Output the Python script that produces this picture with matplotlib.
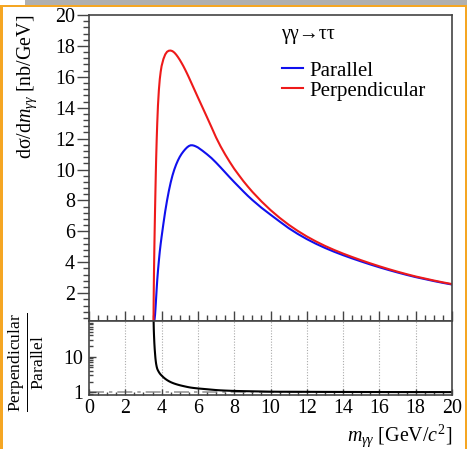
import matplotlib
matplotlib.use("Agg")
import matplotlib.pyplot as plt
from matplotlib.patches import Rectangle
from matplotlib.ticker import MultipleLocator, LogLocator, NullFormatter, FixedLocator
import numpy as np

plt.rcParams['font.family'] = ['Liberation Serif', 'DejaVu Serif']
plt.rcParams['mathtext.fontset'] = 'custom'
plt.rcParams['mathtext.rm'] = 'Liberation Serif'
plt.rcParams['mathtext.it'] = 'Liberation Serif:italic'
plt.rcParams['mathtext.bf'] = 'Liberation Serif:bold'

# ---- data ----
m_gg = [3.554, 3.56, 3.57, 3.58, 3.60, 3.62, 3.64, 3.66, 3.68, 3.70, 3.73, 3.76, 3.80, 3.85,
        3.90, 3.95, 4.0, 4.1, 4.2, 4.3, 4.4, 4.5, 4.6, 4.7, 4.8, 4.9, 5.0, 5.1, 5.2, 5.3,
        5.4, 5.5, 5.6, 5.7, 5.8, 5.9, 6.0, 6.25, 6.5, 6.75, 7.0, 7.25, 7.5, 7.75, 8.0, 8.25,
        8.5, 8.75, 9.0, 9.5, 10, 10.5, 11, 11.5, 12, 12.5, 13, 13.5, 14, 14.5, 15, 15.5,
        16, 16.5, 17, 17.5, 18, 18.5, 19, 19.5, 20]
perpendicular = [0.0, 1.2, 2.3, 3.3, 4.85, 6.2, 7.45, 8.6, 9.7, 10.7, 11.95, 13.0, 14.15, 15.15,
                 15.85, 16.33, 16.7, 17.15, 17.45, 17.62, 17.69, 17.7, 17.66, 17.57, 17.44, 17.28, 17.1, 16.9, 16.69, 16.46,
                 16.22, 15.97, 15.71, 15.45, 15.19, 14.93, 14.67, 14.03, 13.39, 12.74, 12.08, 11.5, 10.98, 10.5, 10.05, 9.65,
                 9.26, 8.9, 8.56, 7.94, 7.38, 6.88, 6.43, 6.03, 5.67, 5.35, 5.06, 4.8, 4.56, 4.34, 4.13, 3.93,
                 3.74, 3.56, 3.39, 3.23, 3.08, 2.95, 2.82, 2.7, 2.59]
parallel = [0.0, 0.012, 0.04, 0.08, 0.2, 0.38, 0.62, 0.95, 1.32, 1.72, 2.3, 2.85, 3.45, 4.1,
            4.7, 5.2, 5.65, 6.5, 7.3, 8.0, 8.62, 9.16, 9.62, 10.0, 10.32, 10.59, 10.82, 11.01, 11.17, 11.31,
            11.43, 11.52, 11.57, 11.57, 11.54, 11.49, 11.43, 11.22, 10.99, 10.74, 10.45, 10.14, 9.82, 9.5, 9.19, 8.89,
            8.59, 8.3, 8.03, 7.53, 7.08, 6.64, 6.21, 5.835, 5.5, 5.2, 4.93, 4.685, 4.46, 4.25, 4.05, 3.858,
            3.675, 3.503, 3.34, 3.185, 3.04, 2.913, 2.785, 2.668, 2.56]

process_label = "γγ→ττ"
series_labels = ["Parallel", "Perpendicular"]

m_arr = np.array(m_gg)
perp = np.array(perpendicular)
para = np.array(parallel)
ok = para > 0
ratio = perp[ok] / para[ok]
m_ratio = m_arr[ok]

W, H = 467, 449
fig = plt.figure(figsize=(W / 100, H / 100), dpi=100)

def fx(px):
    return px / W

def fy(py):
    return 1 - py / H

# screenshot frame decorations
fig.patches.append(Rectangle((fx(25), fy(4.5)), fx(442), 4.5 / H, transform=fig.transFigure,
                             facecolor='#b0b0b0', edgecolor='none', zorder=0))
fig.patches.append(Rectangle((0, fy(7)), 1, 2 / H, transform=fig.transFigure,
                             facecolor='#f5a623', edgecolor='none', zorder=0))
fig.patches.append(Rectangle((0, 0), 2.5 / W, fy(5), transform=fig.transFigure,
                             facecolor='#f5a623', edgecolor='none', zorder=0))
fig.patches.append(Rectangle((fx(464.5), 0), 2.5 / W, fy(5), transform=fig.transFigure,
                             facecolor='#f5a623', edgecolor='none', zorder=0))

L, R = 89, 452
top_t, top_b = 15, 321
bot_t, bot_b = 321, 395

ax1 = fig.add_axes([fx(L), fy(top_b), (R - L) / W, (top_b - top_t) / H])
ax2 = fig.add_axes([fx(L), fy(bot_b), (R - L) / W, (bot_b - bot_t) / H])

spine_col = '#444444'
fs = 14.4

# upper panel
ax1.plot(m_arr, para, color='#1010ee', lw=1.5, label=series_labels[0])
ax1.plot(m_arr, perp, color='#ee1a1a', lw=1.5, label=series_labels[1])
ax1.set_xlim(0, 20)
ax1.set_ylim(0.2, 20)
ax1.yaxis.set_major_locator(MultipleLocator(2))
ax1.yaxis.set_minor_locator(MultipleLocator(0.4))
ax1.xaxis.set_major_locator(MultipleLocator(2))
ax1.xaxis.set_minor_locator(MultipleLocator(0.5))
ax1.set_yticks([2, 4, 6, 8, 10, 12, 14, 16, 18, 20])
ax1.tick_params(axis='y', which='major', direction='out', length=9, width=1, color=spine_col,
                labelsize=fs, pad=1)
ax1.tick_params(axis='y', which='minor', direction='out', length=4.5, width=1, color=spine_col)
ax1.tick_params(axis='x', which='major', direction='in', length=7, width=1, color=spine_col,
                labelbottom=False)
ax1.tick_params(axis='x', which='minor', direction='in', length=4, width=1, color=spine_col)
for sp in ax1.spines.values():
    sp.set_color(spine_col)
    sp.set_linewidth(1.2)

# legend
fig.text(fx(281), fy(34), process_label, fontsize=fs, ha='left', va='center')
leg = ax1.legend(loc='upper left', bbox_to_anchor=((282 - L) / (R - L), 1 - (61 - top_t) / (top_b - top_t)),
                 frameon=False, fontsize=15, handlelength=1.0, handletextpad=0.3,
                 labelspacing=0.02, borderaxespad=0, borderpad=0)

# lower panel
ax2.plot(m_ratio, ratio, color='black', lw=1.5)
ax2.axhline(1.0, color='#999999', lw=1.2, ls=(0, (9, 3, 2, 3)), zorder=1)
for xv in range(2, 20, 2):
    ax2.axvline(xv, color='#aaaaaa', lw=0.8, ls=(0, (1, 1.5)), zorder=0)
ax2.set_xlim(0, 20)
ax2.set_yscale('log')
ax2.set_ylim(0.84, 100)
ax2.yaxis.set_major_locator(FixedLocator([1, 10]))
ax2.yaxis.set_minor_locator(LogLocator(base=10, subs=np.arange(2, 10)))
ax2.yaxis.set_minor_formatter(NullFormatter())
ax2.set_yticklabels(['1', '10'])
ax2.xaxis.set_major_locator(MultipleLocator(2))
ax2.xaxis.set_minor_locator(MultipleLocator(0.5))
ax2.tick_params(axis='y', which='major', direction='in', length=5, width=1, color=spine_col,
                labelsize=fs, pad=4)
ax2.tick_params(axis='y', which='minor', direction='in', length=3, width=1, color=spine_col)
ax2.tick_params(axis='x', which='major', direction='in', length=4, width=1, color=spine_col,
                labelsize=fs, pad=3)
ax2.tick_params(axis='x', which='minor', direction='in', length=2.5, width=1, color=spine_col)
for sp in ax2.spines.values():
    sp.set_color(spine_col)
    sp.set_linewidth(1.2)

# axis titles
fig.text(fx(27), fy(15), 'dσ/d$m_{γγ}$ [nb/GeV]', rotation=90, fontsize=fs, ha='center', va='top')
fig.text(fx(26), fy(362), r'$\frac{\mathrm{Perpendicular}}{\mathrm{Parallel}}$', rotation=90,
         fontsize=fs * 1.25, ha='center', va='center')
fig.text(fx(452), fy(436), r'$m_{γγ}$ [GeV/$c^{2}$]', fontsize=fs, ha='right', va='center')

fig.savefig('out.png', dpi=100, facecolor='white')
